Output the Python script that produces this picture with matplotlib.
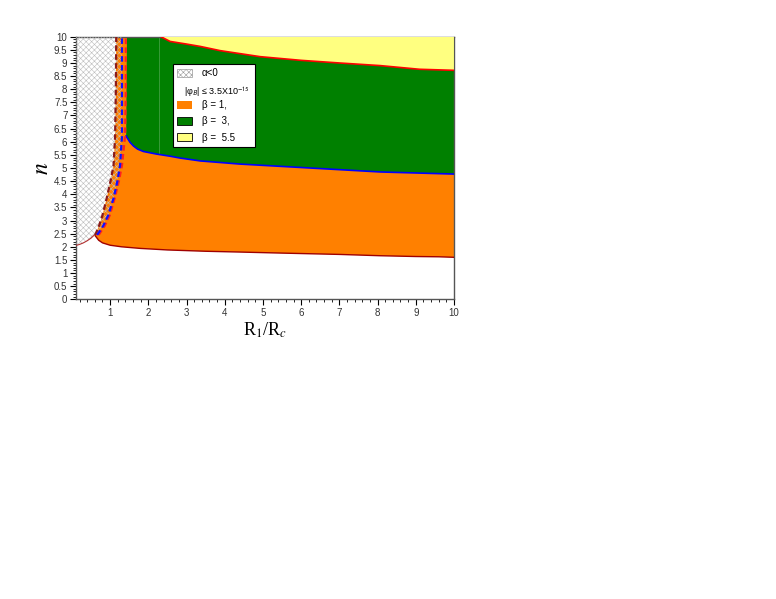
import matplotlib
matplotlib.use("Agg")
import matplotlib.pyplot as plt
from matplotlib.patches import Patch
import numpy as np

plt.rcParams['font.family'] = ['Liberation Sans', 'DejaVu Sans']
plt.rcParams['mathtext.fontset'] = 'stix'
plt.rcParams['hatch.linewidth'] = 0.4

# boundaries, parametrised by n
n_side = [2.45, 2.8, 3.2, 3.85, 4.5, 5.1, 6.2, 8.0, 10.0]
x_brown = [0.61, 0.71, 0.80, 0.91, 1.01, 1.09, 1.13, 1.15, 1.16]
x_blue = [0.66, 0.82, 0.95, 1.09, 1.19, 1.26, 1.31, 1.31, 1.31]
x_red = [0.70, 0.86, 0.99, 1.12, 1.23, 1.31, 1.39, 1.41, 1.41]

# bottom of the alpha<0 region
x_hb = [0.1, 0.2, 0.3, 0.4, 0.5, 0.61]
n_hb = [2.05, 2.09, 2.15, 2.23, 2.33, 2.48]

# lower edge of beta = 1
x_low = [0.61, 0.7, 0.8, 1.0, 1.3, 1.78, 2.5, 3.5, 4.4, 5.5, 7.0, 8.07, 9.0, 9.6, 10.0]
n_low = [2.42, 2.25, 2.15, 2.06, 2.0, 1.94, 1.88, 1.83, 1.80, 1.76, 1.71, 1.66, 1.63, 1.62, 1.60]

# beta = 1 / beta = 3 border
x_mid = [1.42, 1.46, 1.52, 1.61, 1.72, 1.87, 2.22, 2.57, 2.83, 3.36, 4.4, 6.0, 8.07, 10.0]
n_mid = [6.22, 6.12, 5.98, 5.84, 5.72, 5.63, 5.53, 5.45, 5.38, 5.27, 5.15, 5.02, 4.85, 4.77]

# beta = 3 / beta = 5.5 border
x_top = [2.33, 2.57, 3.0, 3.36, 3.88, 4.93, 6.0, 7.0, 8.07, 9.1, 10.0]
n_top = [10.0, 9.82, 9.72, 9.63, 9.47, 9.24, 9.1, 9.0, 8.9, 8.76, 8.72]

c_or = '#ff8000'
c_gr = '#008000'
c_ye = '#ffff80'

fig = plt.figure(figsize=(7.76, 5.99), dpi=100)
ax = fig.add_axes([0.0976, 0.5003, 0.4874, 0.4384])

# beta = 1
px = x_brown + [10.0] + [10.0] + x_low[::-1]
py = n_side + [10.0] + [n_low[-1]] + n_low[::-1]
ax.fill(px, py, color=c_or, lw=0, zorder=1)

# beta = 3
gx = [1.44] + x_mid + [10.0]
gy = [10.0] + n_mid + [10.0]
ax.fill(gx, gy, color=c_gr, lw=0, zorder=2)
ax.plot([2.29, 2.29], [5.53, 10], color='#40a040', lw=0.6, zorder=2)

# beta = 5.5
ax.fill(x_top + [10.0], n_top + [10.0], color=c_ye, lw=0, zorder=3)

# alpha < 0
hx = x_hb + x_blue[1:] + [0.1]
hy = n_hb + n_side[1:] + [10.0]
ax.fill(hx, hy, facecolor='none', edgecolor='#bdbdbd', hatch='xxxxxx', lw=0, zorder=4)

# border lines
ax.plot(x_low, n_low, color='#a00000', lw=1.0, zorder=5)
ax.plot(x_hb, n_hb, color='#b03030', lw=0.8, zorder=5)
ax.plot(x_mid, n_mid, color='#0000ff', lw=1.2, zorder=5)
ax.plot(x_top, n_top, color='#ff0000', lw=1.2, zorder=5)
ax.plot(x_brown, n_side, color='#8b1a1a', lw=1.6, ls=(0, (2.5, 1.5)), zorder=6)
ax.plot(x_red, n_side, color='#ff2020', lw=1.6, ls=(0, (2.5, 1.5)), zorder=6)
ax.plot(x_blue, n_side, color='#1010ff', lw=1.6, ls=(0, (2.5, 1.5)), zorder=6)

ax.set_xlim(0.1, 10)
ax.set_ylim(0, 10)
ax.set_xticks(np.arange(1, 11))
ax.set_xticks(np.arange(0.2, 10.01, 0.2), minor=True)
ax.set_yticks(np.arange(0, 10.01, 0.5))
ax.set_yticklabels(['0', '0.5', '1', '1.5', '2', '2.5', '3', '3.5', '4', '4.5', '5',
                    '5.5', '6', '6.5', '7', '7.5', '8', '8.5', '9', '9.5', '10'])
ax.set_yticks(np.arange(0, 10.01, 0.1), minor=True)
ax.tick_params(which='major', direction='out', length=4, width=0.8, labelsize=7, pad=2,
               labelcolor='#333333')
ax.tick_params(which='minor', direction='out', length=2, width=0.6)
for s in ax.spines.values():
    s.set_color('#555555')
    s.set_linewidth(1.0)

ax.set_xlabel(r'R$_1$/R$_c$', fontsize=13, family='Liberation Serif', labelpad=2)
ax.set_ylabel(r'$\mathbf{\mathit{n}}$', fontsize=17, labelpad=1)

handles = [Patch(facecolor='white', edgecolor='#999999', hatch='xxxxxx', lw=0.5),
           Patch(facecolor='none', edgecolor='none'),
           Patch(facecolor=c_or, edgecolor='none'),
           Patch(facecolor=c_gr, edgecolor='black', lw=0.6),
           Patch(facecolor=c_ye, edgecolor='black', lw=0.6)]
labels = ['α<0', ' ' * 18, 'β = 1,', 'β =  3,', 'β =  5.5']
leg = ax.legend(handles, labels, loc='upper left', bbox_to_anchor=(0.257, 0.896),
                fontsize=7, frameon=True, fancybox=False, framealpha=1,
                borderaxespad=0, handlelength=1.5, handleheight=0.9,
                labelspacing=0.62, borderpad=0.45, handletextpad=1.0)
leg.get_frame().set_edgecolor('black')
leg.get_frame().set_linewidth(0.8)
leg.get_frame().set_facecolor('white')
leg.set_zorder(10)
ax.text(0.285, 0.79, r'|φ$_\mathsf{B}$| ≤ 3.5X10$^{\mathsf{-15}}$', transform=ax.transAxes,
        fontsize=6.5, zorder=11, va='center')

fig.savefig('out.png', dpi=100)
